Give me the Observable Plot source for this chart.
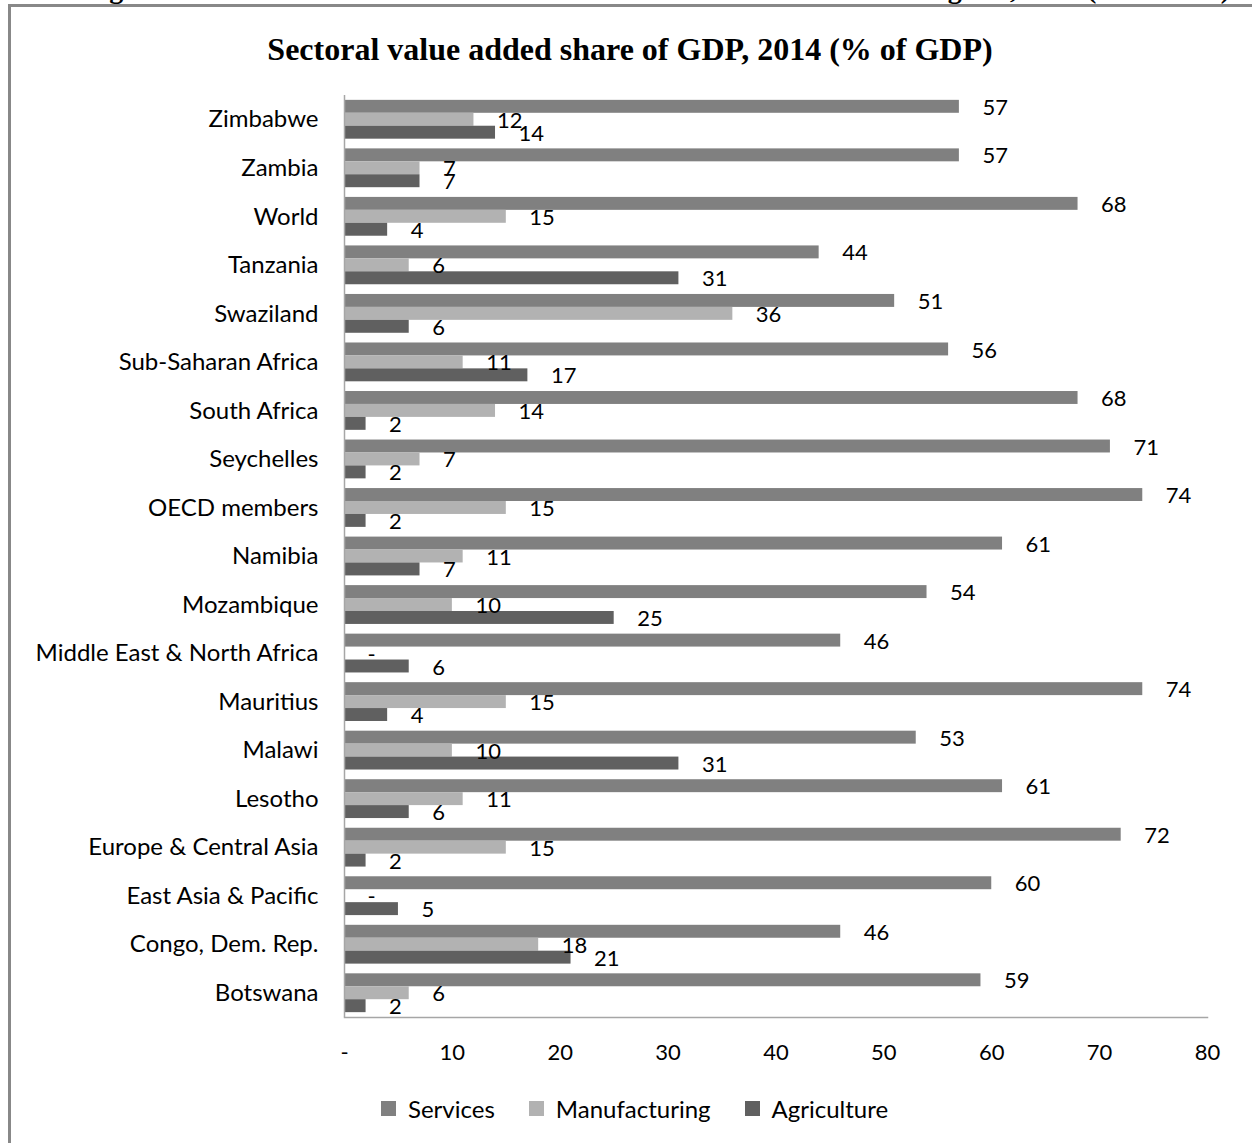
<!DOCTYPE html>
<html>
<head>
<meta charset="utf-8">
<script src="https://cdn.jsdelivr.net/npm/d3@7"></script>
<script src="https://cdn.jsdelivr.net/npm/@observablehq/plot@0.6"></script>
<style>
  html, body { margin: 0; padding: 0; background: #fff; overflow: hidden; }
  #page { position: relative; width: 1252px; height: 1143px; overflow: hidden; font-family: Lato, "Noto Sans", sans-serif; }
  #frame { position: absolute; left: 8px; top: 4px; right: -20px; bottom: -20px;
           border-left: 3px solid #888; border-top: 3px solid #888; }
  #caption { position: absolute; right: 22px; top: -25px; white-space: nowrap;
             font: bold 28px/28px "Liberation Serif", "Times New Roman", serif; color: #000; }
  #title { position: absolute; left: 8px; width: 1244px; top: 31px; text-align: center;
           font: bold 32px/36px "Liberation Serif", "Times New Roman", serif; color: #000; }
  #chart { position: absolute; left: 0; top: 0; }
  #legend { position: absolute; left: 381px; top: 1092px; }
  .leg-swatch { margin-right: 34px !important; }
  .leg-swatch > svg { margin-right: 12px !important; }
</style>
</head>
<body>
<div id="page">
  <div id="caption">Figure 4: Sectoral value added share of GDP in selected countries and regions, 2014 (% of GDP)</div>
  <div id="frame"></div>
  <div id="title">Sectoral value added share of GDP, 2014 (% of GDP)</div>
  <div id="chart"></div>
  <div id="legend"></div>
</div>
<script>
// Countries and regions, listed top to bottom
const countries = [
  "Zimbabwe", "Zambia", "World", "Tanzania", "Swaziland", "Sub-Saharan Africa",
  "South Africa", "Seychelles", "OECD members", "Namibia", "Mozambique",
  "Middle East & North Africa", "Mauritius", "Malawi", "Lesotho",
  "Europe & Central Asia", "East Asia & Pacific", "Congo, Dem. Rep.", "Botswana"
];
// Value added, % of GDP
const services      = [57, 57, 68, 44, 51, 56, 68, 71, 74, 61, 54, 46, 74, 53, 61, 72, 60, 46, 59];
const manufacturing = [12,  7, 15,  6, 36, 11, 14,  7, 15, 11, 10,  0, 15, 10, 11, 15,  0, 18,  6];
const agriculture   = [14,  7,  4, 31,  6, 17,  2,  2,  2,  7, 25,  6,  4, 31,  6,  2,  5, 21,  2];

const sectors = ["Services", "Manufacturing", "Agriculture"];
const sectorColors = ["#808080", "#b2b2b2", "#606060"];
const xTicks = [0, 10, 20, 30, 40, 50, 60, 70, 80];

const series = [services, manufacturing, agriculture];
const rows = [];
countries.forEach((c, i) => {
  sectors.forEach((s, k) => rows.push({country: c, sector: s, value: series[k][i]}));
});

// Layout
const width = 1252, marginLeft = 344, marginRight = 45;
const marginTop = 95, plotBottom = 1017, marginBottom = 70;
const height = plotBottom + marginBottom;
const padInner = 0.2, padOuter = 0.1;
const step = (plotBottom - marginTop) / (countries.length - padInner + 2 * padOuter);
const band = step * (1 - padInner);
const sub = band / 3;

const font = "Lato, 'Noto Sans', sans-serif";
const fsValue = 22;   // value labels and x ticks
const fsText = 24;    // category names and legend

const barMarks = sectors.map((s, k) =>
  Plot.barX(rows.filter(d => d.sector === s), {
    x: "value", y: "country", fill: "sector",
    insetTop: k * sub, insetBottom: (2 - k) * sub
  })
);
const labelMarks = sectors.map((s, k) =>
  Plot.text(rows.filter(d => d.sector === s), {
    x: "value", y: "country",
    text: d => d.value === 0 ? "-" : String(d.value),
    dx: 23, dy: (k - 1) * sub + 1,
    textAnchor: "start", lineAnchor: "middle",
    fontSize: fsValue, fill: "#000"
  })
);

const chart = Plot.plot({
  width, height, marginLeft, marginRight, marginTop, marginBottom,
  style: {fontFamily: font, fontSize: fsValue + "px", color: "#000", background: "transparent"},
  x: {domain: [0, 80]},
  y: {type: "band", domain: countries, paddingInner: padInner, paddingOuter: padOuter, round: false},
  color: {domain: sectors, range: sectorColors},
  marks: [
    ...barMarks,
    ...labelMarks,
    Plot.ruleX([0], {stroke: "#a6a6a6", strokeWidth: 1.5}),
    Plot.frame({anchor: "bottom", stroke: "#a6a6a6", strokeWidth: 1.5}),
    Plot.axisY({tickSize: 0, tickPadding: 26, fontSize: fsText, label: null}),
    Plot.axisX({ticks: xTicks, tickSize: 0, tickPadding: 27, fontSize: fsValue, label: null,
                tickFormat: d => d === 0 ? "-" : String(d)})
  ]
});
document.getElementById("chart").appendChild(chart);

const legend = Plot.legend({
  color: {type: "ordinal", domain: sectors, range: sectorColors},
  swatchSize: 15, className: "leg",
  style: {fontFamily: font, fontSize: fsText + "px", color: "#000"}
});
document.getElementById("legend").appendChild(legend);
</script>
</body>
</html>
